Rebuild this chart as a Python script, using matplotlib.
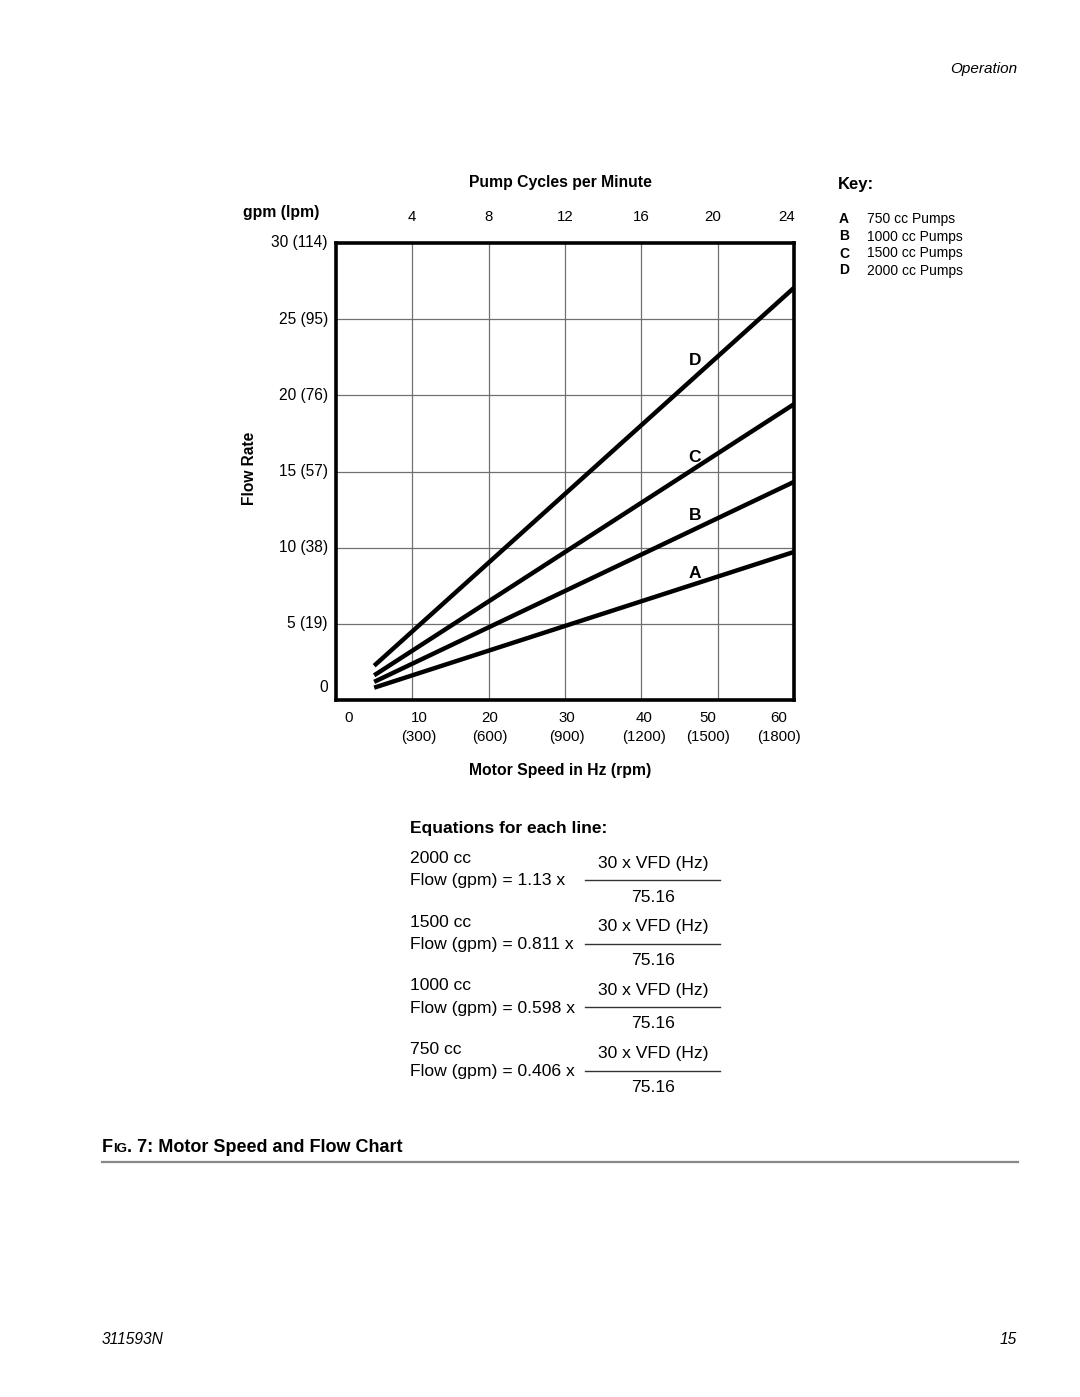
import matplotlib
matplotlib.use("Agg")
import matplotlib.pyplot as plt
from matplotlib.lines import Line2D

plt.rcParams['font.family'] = ['Liberation Sans', 'DejaVu Sans']

# ---- data ----
hz = [5, 60]
flow_A = [0.81, 9.72]    # 750 cc
flow_B = [1.19, 14.32]   # 1000 cc
flow_C = [1.62, 19.42]   # 1500 cc
flow_D = [2.25, 27.06]   # 2000 cc
line_names = ["A", "B", "C", "D"]
key_labels = ["750 cc Pumps", "1000 cc Pumps", "1500 cc Pumps", "2000 cc Pumps"]
hz_ticks = [0, 10, 20, 30, 40, 50, 60]
rpm_labels = ["", "(300)", "(600)", "(900)", "(1200)", "(1500)", "(1800)"]
cycle_ticks = [10, 20, 30, 40, 50, 60]
cycle_labels = ["4", "8", "12", "16", "20", "24"]
gpm_ticks = [0, 5, 10, 15, 20, 25, 30]
gpm_labels = ["0", "5 (19)", "10 (38)", "15 (57)", "20 (76)", "25 (95)", "30 (114)"]
eq_sizes = ["2000 cc", "1500 cc", "1000 cc", "750 cc"]
eq_coef = ["1.13", "0.811", "0.598", "0.406"]

W, H = 1080, 1397
fig = plt.figure(figsize=(W / 100, H / 100), dpi=100)

def fx(px):
    return px / W

def fy(py):
    return 1 - py / H

ax = fig.add_axes([fx(336), fy(700), fx(794) - fx(336), fy(243) - fy(700)])
ax.set_xlim(0, 60)
ax.set_ylim(0, 30)
for x in hz_ticks[1:-1]:
    ax.axvline(x, color="#707070", lw=0.9, zorder=1)
for y in gpm_ticks[1:-1]:
    ax.axhline(y, color="#707070", lw=0.9, zorder=1)
for s in ax.spines.values():
    s.set_linewidth(2.6)
    s.set_color("black")
ax.set_xticks([])
ax.set_yticks([])

series = [flow_A, flow_B, flow_C, flow_D]
for vals in series:
    ax.plot(hz, vals, color="black", lw=3.2, solid_capstyle="butt", zorder=3, clip_on=False)

# line labels
lab_pos = {"D": (47.0, 22.3), "C": (47.0, 15.9), "B": (47.0, 12.1), "A": (47.0, 8.3)}
for n in line_names:
    x, y = lab_pos[n]
    ax.text(x, y, n, ha="center", va="center", fontsize=12.5, fontweight="bold")

# y tick labels
gpm_label_y = {0: 0.8}
for v, lab in zip(gpm_ticks, gpm_labels):
    yy = gpm_label_y.get(v, v)
    ax.text(-1.05, yy, lab, ha="right", va="center", fontsize=11.2, clip_on=False)

# bottom x labels
hz_label_x = {0: 1.6, 10: 10.9, 20: 20.1, 30: 30.2, 40: 40.3, 50: 48.7, 60: 58.0}
for v, r in zip(hz_ticks, rpm_labels):
    xx = hz_label_x[v]
    ax.text(xx, -1.2, str(v), ha="center", va="center", fontsize=10.8, clip_on=False)
    if r:
        ax.text(xx, -2.45, r, ha="center", va="center", fontsize=10.8, clip_on=False)

# top cycle labels
cyc_x = {10: 9.9, 20: 20.0, 30: 30.0, 40: 40.0, 50: 49.4, 60: 59.0}
for v, lab in zip(cycle_ticks, cycle_labels):
    ax.text(cyc_x[v], 31.7, lab, ha="center", va="center", fontsize=10.8, clip_on=False)

# axis titles
fig.text(fx(560), fy(183), "Pump Cycles per Minute", ha="center", va="center", fontsize=11.3, fontweight="bold")
fig.text(fx(243), fy(212), "gpm (lpm)", ha="left", va="center", fontsize=11.3, fontweight="bold")
fig.text(fx(249), fy(468), "Flow Rate", ha="center", va="center", fontsize=11.2, fontweight="bold", rotation=90)
fig.text(fx(560), fy(770), "Motor Speed in Hz (rpm)", ha="center", va="center", fontsize=11.3, fontweight="bold")

# key
fig.text(fx(838), fy(185), "Key:", ha="left", va="center", fontsize=12, fontweight="bold")
key_y = [219, 236.5, 253.5, 270.5]
for yy, n, lab in zip(key_y, line_names, key_labels):
    fig.text(fx(839), fy(yy), n, ha="left", va="center", fontsize=10, fontweight="bold")
    fig.text(fx(867), fy(yy), lab, ha="left", va="center", fontsize=10)

# header / footer
fig.text(fx(1017), fy(69), "Operation", ha="right", va="center", fontsize=11, style="italic")
fig.text(fx(102), fy(1340), "311593N", ha="left", va="center", fontsize=11.2, style="italic")
fig.text(fx(1017), fy(1340), "15", ha="right", va="center", fontsize=11.2, style="italic")

# equations
fig.text(fx(410), fy(828), "Equations for each line:", ha="left", va="center", fontsize=12.5, fontweight="bold")
for i, (sz, c) in enumerate(zip(eq_sizes, eq_coef)):
    y0 = 859 + i * 63.5
    fig.text(fx(410), fy(y0), sz, ha="left", va="center", fontsize=12.6)
    fig.text(fx(410), fy(y0 + 22), f"Flow (gpm) = {c} x", ha="left", va="center", fontsize=12.6)
    fig.text(fx(653), fy(y0 + 4), "30 x VFD (Hz)", ha="center", va="center", fontsize=12.6)
    fig.add_artist(Line2D([fx(585), fx(720)], [fy(y0 + 21), fy(y0 + 21)], color="#333333", lw=1.0))
    fig.text(fx(653), fy(y0 + 38), "75.16", ha="center", va="center", fontsize=12.6)

# caption with small caps
fig.canvas.draw()
r = fig.canvas.get_renderer()
t1 = fig.text(fx(102), fy(1147), "F", ha="left", va="center", fontsize=13, fontweight="bold")
bb = t1.get_window_extent(r)
t2 = fig.text(bb.x1 / W, fy(1148.5), "IG", ha="left", va="center", fontsize=9.5, fontweight="bold")
bb2 = t2.get_window_extent(r)
fig.text(bb2.x1 / W, fy(1147), ". 7: Motor Speed and Flow Chart", ha="left", va="center", fontsize=13, fontweight="bold")
fig.add_artist(Line2D([fx(102), fx(1018)], [fy(1162), fy(1162)], color="#888888", lw=1.6))

fig.savefig("out.png", dpi=100)
